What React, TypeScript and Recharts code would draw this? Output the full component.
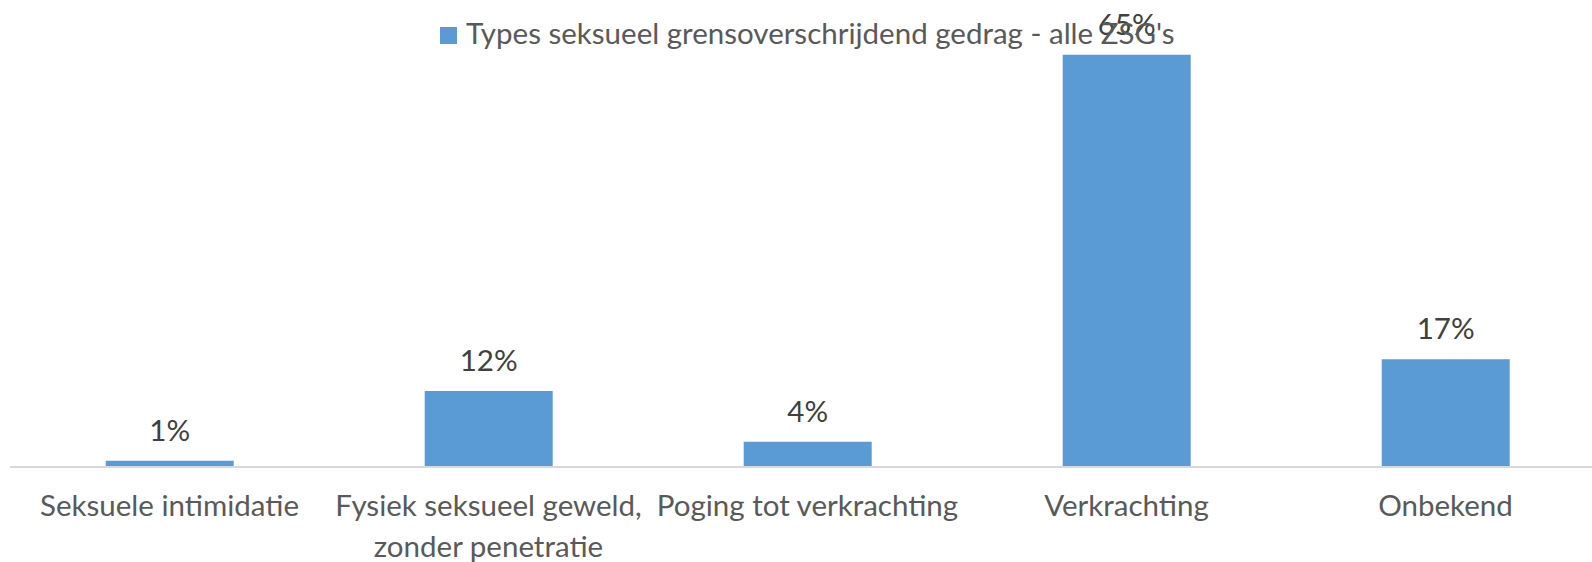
import React from "react";
import { BarChart, Bar, XAxis, YAxis, Legend, LabelList } from "recharts";

const categories = [
  "Seksuele intimidatie",
  "Fysiek seksueel geweld, zonder penetratie",
  "Poging tot verkrachting",
  "Verkrachting",
  "Onbekend",
];
const values = [1, 12, 4, 65, 17];
const seriesName = "Types seksueel grensoverschrijdend gedrag - alle ZSG's";

const data = categories.map((c, i) => ({ name: c, value: values[i] }));

const FONT = "Lato, 'DejaVu Sans', sans-serif";
const FS = 29.5;
const TEXT = "#595959";
const LABEL = "#404040";
const BAR = "#5B9BD5";

function wrap(s: string, max = 24): string[] {
  const words = s.split(" ");
  const lines: string[] = [];
  let cur = "";
  for (const w of words) {
    const t = cur ? cur + " " + w : w;
    if (t.length > max && cur) {
      lines.push(cur);
      cur = w;
    } else cur = t;
  }
  if (cur) lines.push(cur);
  return lines;
}

const Tick = (props: any) => {
  const { x, y, payload } = props;
  const lines = wrap(payload.value);
  return (
    <text x={x} y={y} textAnchor="middle" fill={TEXT} fontSize={FS} fontFamily={FONT}>
      {lines.map((l, i) => (
        <tspan key={i} x={x} y={y + 49 + i * 41}>
          {l}
        </tspan>
      ))}
    </text>
  );
};

const BarLabel = (props: any) => {
  const { x, y, width, value } = props;
  return (
    <text x={x + width / 2} y={y - 20} textAnchor="middle" fill={LABEL} fontSize={FS} fontFamily={FONT}>
      {value}%
    </text>
  );
};

const LegendContent = (props: any) => {
  const item = props.payload && props.payload[0];
  const label = item ? item.value : seriesName;
  return (
    <svg width={1592} height={60} style={{ display: "block" }}>
      <rect x={440} y={27} width={17} height={17} fill={BAR} />
      <text x={466} y={44} fill={TEXT} fontSize={FS} fontFamily={FONT}>
        {label}
      </text>
    </svg>
  );
};

export default function App() {
  return (
    <div
      style={{
        position: "fixed",
        left: 0,
        top: 0,
        width: 1592,
        height: 562,
        overflow: "hidden",
        background: "#fff",
      }}
    >
      <BarChart
        width={1610}
        height={562}
        data={data}
        margin={{ top: 23, right: 5, left: 10, bottom: 0 }}
        barCategoryGap="30%"
      >
        <XAxis
          dataKey="name"
          height={95}
          tickLine={false}
          tickSize={0}
          tickMargin={0}
          axisLine={{ stroke: "#D9D9D9", strokeWidth: 2 }}
          tick={<Tick />}
          interval={0}
        />
        <YAxis hide domain={[0, 70]} />
        <Bar dataKey="value" fill={BAR} isAnimationActive={false} name={seriesName}>
          <LabelList dataKey="value" content={<BarLabel />} />
        </Bar>
        <Legend
          content={<LegendContent />}
          verticalAlign="middle"
          align="center"
          layout="horizontal"
          wrapperStyle={{ position: "absolute", left: 0, top: 0, width: 1592, height: 60 }}
        />
      </BarChart>
    </div>
  );
}
